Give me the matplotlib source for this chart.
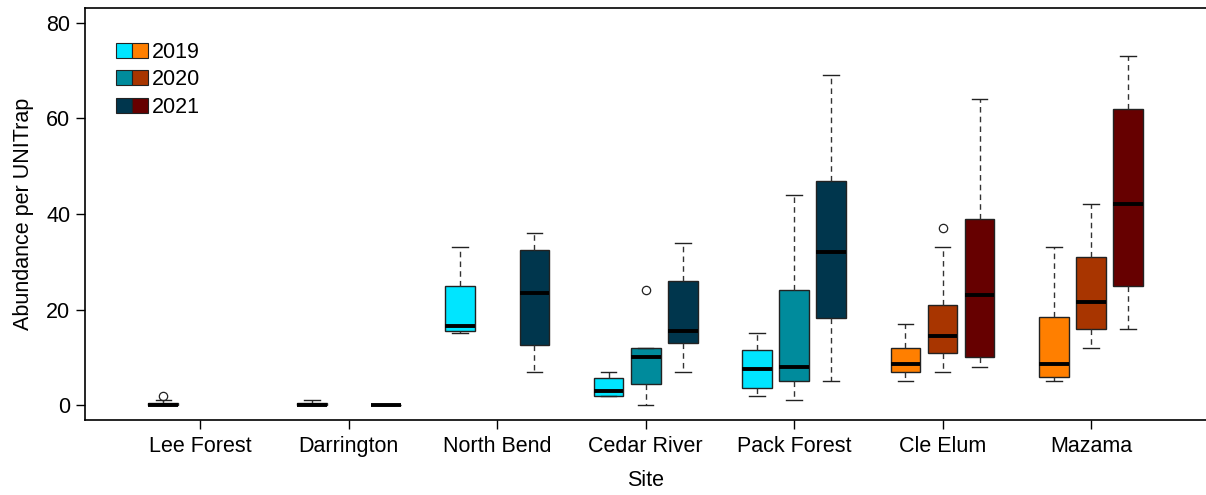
import matplotlib
matplotlib.use("Agg")
import matplotlib.pyplot as plt
from matplotlib.patches import Patch
from matplotlib.legend_handler import HandlerTuple

plt.rcParams['font.family'] = ['Liberation Sans', 'DejaVu Sans']

sites = ['Lee Forest', 'Darrington', 'North Bend', 'Cedar River',
         'Pack Forest', 'Cle Elum', 'Mazama']
years = ['2019', '2020', '2021']

# five-number summaries per site (None = not sampled that year)
whislo_2019 = [0, 0, 15, 2, 2, 5, 5]
q1_2019 = [0, 0, 15.5, 2, 3.6, 7, 6]
med_2019 = [0, 0, 16.5, 3, 7.5, 8.6, 8.6]
q3_2019 = [0.5, 0.5, 25, 5.6, 11.5, 12, 18.5]
whishi_2019 = [1, 1, 33, 7, 15, 17, 33]
fliers_2019 = [[2], [], [], [], [], [], []]

whislo_2020 = [None, None, None, 0, 1, 7, 12]
q1_2020 = [None, None, None, 4.5, 5, 11, 16]
med_2020 = [None, None, None, 10, 8, 14.5, 21.5]
q3_2020 = [None, None, None, 12, 24, 21, 31]
whishi_2020 = [None, None, None, 12, 44, 33, 42]
fliers_2020 = [[], [], [], [24], [], [37], []]

whislo_2021 = [None, 0, 7, 7, 5, 8, 16]
q1_2021 = [None, 0, 12.5, 13, 18.2, 10, 25]
med_2021 = [None, 0, 23.5, 15.5, 32, 23, 42]
q3_2021 = [None, 0, 32.5, 26, 47, 39, 62]
whishi_2021 = [None, 0, 36, 34, 69, 64, 73]
fliers_2021 = [[], [], [], [], [], [], []]

# west-side sites in blues, east-side sites in oranges/reds
west_colors = ['#00E5FF', '#008B9C', '#00364D']
east_colors = ['#FF7F00', '#A83500', '#660000']
east_sites = {'Cle Elum', 'Mazama'}

series = [
    (whislo_2019, q1_2019, med_2019, q3_2019, whishi_2019, fliers_2019),
    (whislo_2020, q1_2020, med_2020, q3_2020, whishi_2020, fliers_2020),
    (whislo_2021, q1_2021, med_2021, q3_2021, whishi_2021, fliers_2021),
]

fs = 15.5

fig = plt.figure(figsize=(12.06, 4.95), dpi=100)
ax = fig.add_axes([85 / 1206, 75 / 495, 1121 / 1206, 412 / 495])

for j, (lo, q1, med, q3, hi, fl) in enumerate(series):
    for i, site in enumerate(sites):
        if med[i] is None:
            continue
        stats = [dict(whislo=lo[i], q1=q1[i], med=med[i], q3=q3[i],
                      whishi=hi[i], fliers=fl[i])]
        color = (east_colors if site in east_sites else west_colors)[j]
        ax.bxp(stats, positions=[4 * i + 1 + j], widths=0.8, capwidths=0.42,
               patch_artist=True, manage_ticks=False,
               boxprops=dict(facecolor=color, edgecolor='#222222', linewidth=1.0),
               medianprops=dict(color='black', linewidth=2.8, solid_capstyle='butt'),
               whiskerprops=dict(color='#333333', linewidth=1.0, linestyle=(0, (4, 3))),
               capprops=dict(color='#222222', linewidth=1.0),
               flierprops=dict(marker='o', markerfacecolor='none',
                               markeredgecolor='#222222', markersize=6,
                               markeredgewidth=0.9))

ax.set_xlim(-1.11, 29.1)
ax.set_ylim(-3.1, 83.1)
ax.set_xticks([4 * i + 2 for i in range(len(sites))])
ax.set_xticklabels(sites)
ax.set_yticks([0, 20, 40, 60, 80])
ax.tick_params(axis='both', labelsize=fs, length=6.5, width=1, direction='out')
ax.tick_params(axis='x', pad=5)
ax.tick_params(axis='y', pad=4)
ax.spines['right'].set_visible(False)
for s in ['left', 'bottom', 'top']:
    ax.spines[s].set_linewidth(1.2)

ax.set_xlabel('Site', fontsize=fs)
ax.xaxis.set_label_coords(0.5, -0.146)
ax.xaxis.label.set_va('center')
ax.set_ylabel('Abundance per UNITrap', fontsize=fs)
ax.yaxis.set_label_coords(-0.055, 0.5)
ax.yaxis.label.set_va('center')

handles = [(Patch(facecolor=w, edgecolor='#222222', linewidth=0.8),
            Patch(facecolor=e, edgecolor='#222222', linewidth=0.8))
           for w, e in zip(west_colors, east_colors)]
ax.legend(handles, years, handler_map={tuple: HandlerTuple(ndivide=None, pad=0)},
          loc='upper left', bbox_to_anchor=(0.028, 0.918), frameon=False,
          fontsize=fs, handlelength=1.45, handleheight=0.7, handletextpad=0.2,
          labelspacing=0.3, borderaxespad=0, borderpad=0)

fig.savefig('out.png', dpi=100)
